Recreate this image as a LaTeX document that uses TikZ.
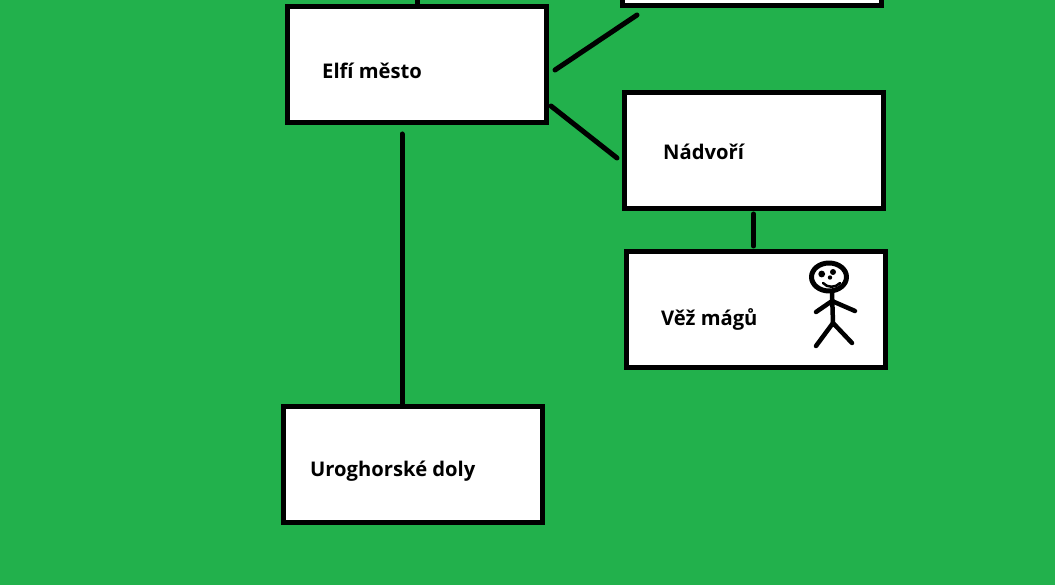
\documentclass[tikz,border=0pt]{standalone}
\usepackage{fontspec}
\setmainfont{Open Sans}
\definecolor{bggreen}{HTML}{22B14C}
\tikzset{
  place/.style={draw=black,fill=white,line width=5pt,rectangle,minimum width=259pt,minimum height=116pt,inner sep=0pt},
  lbl/.style={anchor=base west,inner sep=0pt,font=\bfseries\fontsize{20.2}{24}\selectfont,text=black},
  link/.style={draw=black,line width=5pt,line cap=round},
  figure line/.style={draw=black,line width=4.5pt,line cap=round,line join=round}
}
\begin{document}
\begin{tikzpicture}[x=1pt,y=-1pt]
\useasboundingbox (0,0) rectangle (1055,585);
\clip (0,0) rectangle (1055,585);
\fill[bggreen] (0,0) rectangle (1055,585);
\node[place] (elf) at (417,64.5) {};
\node[place] (top) at (751.5,-52.5) {};
\node[place] (nad) at (754,150.5) {};
\node[place] (vez) at (756,309.5) {};
\node[place] (uro) at (413,464.5) {};
\node[lbl] (telf) at (322,79) {Elfí město};
\node[lbl] (tnad) at (663,159.5) {Nádvoří};
\node[lbl] (tvez) at (661,325.5) {Věž mágů};
\node[lbl] (turo) at (310,476) {Uroghorské doly};
\coordinate (up) at (417,-5);
\coordinate (a1) at (555,70);
\coordinate (a2) at (637,15);
\coordinate (b1) at (551,106);
\coordinate (b2) at (617,158);
\coordinate (c1) at (402,134);
\coordinate (d1) at (753.5,214);
\coordinate (d2) at (753.5,246);
\draw[link] (elf.north -| up) -- (up);
\draw[link] (a1) -- (a2);
\draw[link] (b1) -- (b2);
\draw[link] (c1) -- (c1 |- uro.north);
\draw[link] (d1) -- (d2);
% stick figure
\draw[figure line,line width=5pt] (829,277) ellipse [x radius=17.5, y radius=14];
\fill (821.7,274) circle (3.4pt);
\fill (833,272) circle (3pt);
\fill (830,277.5) circle (2.2pt);
\draw[figure line,line width=2.5pt] (823,283) .. controls (827,288) and (836,288) .. (840,283);
\draw[figure line] (832,292) -- (833,323);
\draw[figure line] (816,312) -- (832,301) -- (855,311);
\draw[figure line] (816,346) -- (833,323) -- (852,343);
\end{tikzpicture}
\end{document}
